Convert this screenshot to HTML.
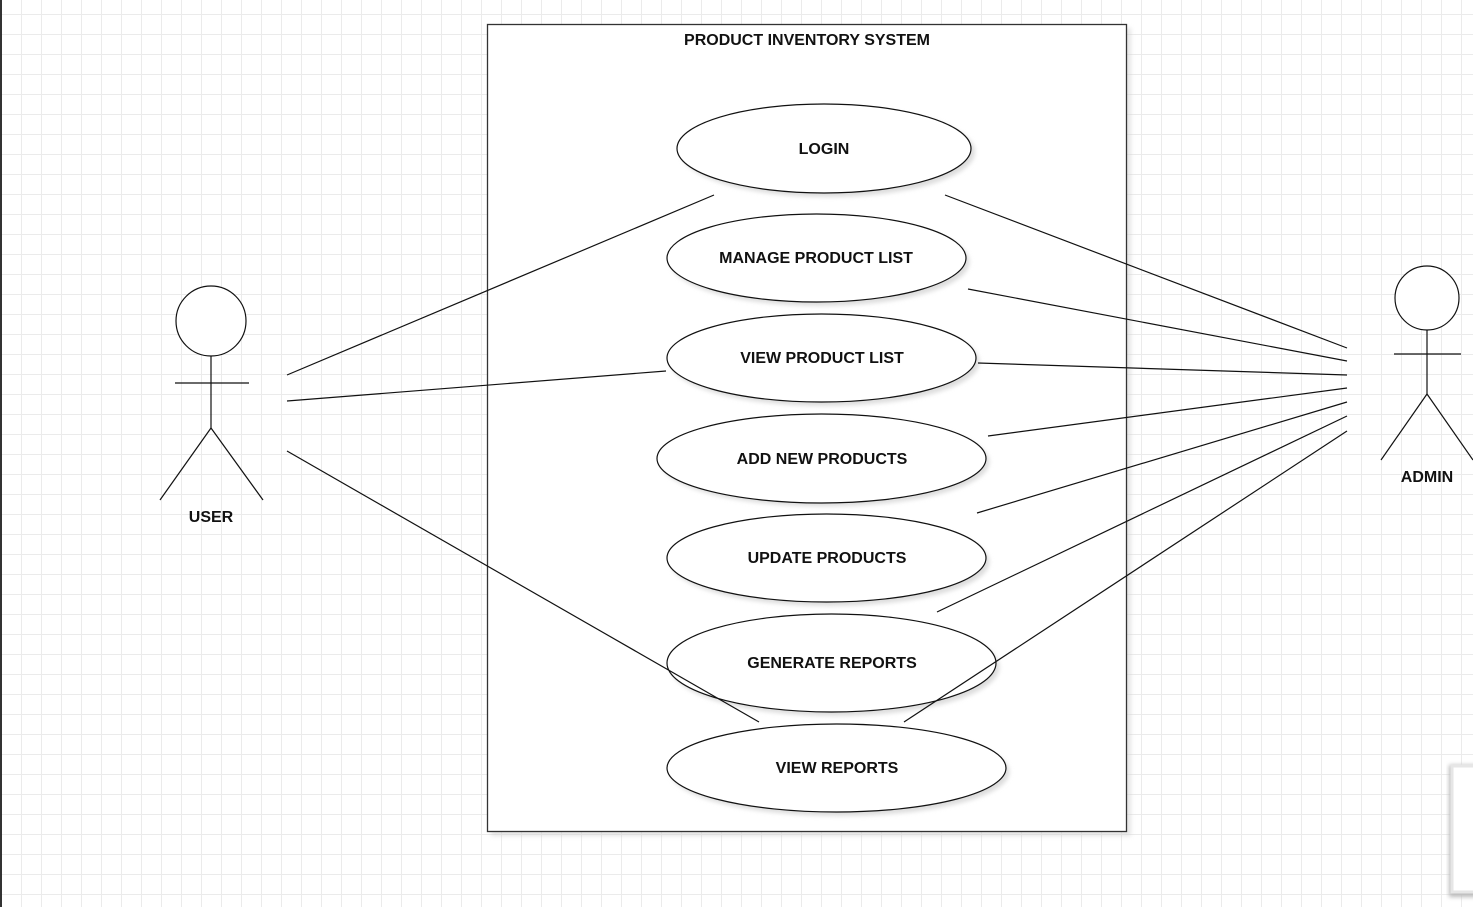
<!DOCTYPE html>
<html><head><style>
html,body{margin:0;padding:0;width:1473px;height:907px;overflow:hidden;background:#fff;}
body{background-image:linear-gradient(#ebebeb 1px,transparent 1px),linear-gradient(90deg,#ebebeb 1px,transparent 1px);background-size:20px 20px;background-position:1px 14px;}
svg{position:absolute;left:0;top:0;}
text{font-family:"Liberation Sans",Arial,sans-serif;font-weight:bold;font-size:16px;fill:#111;text-anchor:middle;}
</style></head><body>
<svg width="1473" height="907" viewBox="0 0 1473 907">
<defs><filter id="s" x="-10%" y="-10%" width="130%" height="130%"><feGaussianBlur stdDeviation="2"/></filter></defs>
<rect x="0" y="0" width="2" height="907" fill="#333"/>
<rect x="491" y="28" width="640" height="808" fill="#ccc" opacity="0.5" filter="url(#s)"/>
<rect x="487.5" y="24.5" width="639" height="807" fill="#fff" stroke="#333" stroke-width="1.3"/>
<text x="807" y="45">PRODUCT INVENTORY SYSTEM</text>
<g fill="#ddd" filter="url(#s)">
<ellipse cx="828" cy="152" rx="147" ry="45"/>
<ellipse cx="820" cy="262" rx="149.5" ry="44"/>
<ellipse cx="825" cy="362" rx="154.5" ry="44"/>
<ellipse cx="825" cy="462" rx="164.5" ry="44.5"/>
<ellipse cx="830" cy="562" rx="159.5" ry="44"/>
<ellipse cx="835" cy="667" rx="164.5" ry="49"/>
<ellipse cx="840" cy="772" rx="169.5" ry="44"/>
</g>
<g fill="#fff" stroke="#111" stroke-width="1.2">
<ellipse cx="824" cy="148.5" rx="147" ry="44.5"/>
<ellipse cx="816.5" cy="258" rx="149.5" ry="44"/>
<ellipse cx="821.5" cy="358" rx="154.5" ry="44"/>
<ellipse cx="821.5" cy="458.5" rx="164.5" ry="44.5"/>
<ellipse cx="826.5" cy="558" rx="159.5" ry="44"/>
<ellipse cx="831.5" cy="663" rx="164.5" ry="49"/>
<ellipse cx="836.5" cy="768" rx="169.5" ry="44"/>
</g>
<text x="824" y="154">LOGIN</text>
<text x="816" y="263">MANAGE PRODUCT LIST</text>
<text x="822" y="363">VIEW PRODUCT LIST</text>
<text x="822" y="464">ADD NEW PRODUCTS</text>
<text x="827" y="563">UPDATE PRODUCTS</text>
<text x="832" y="668">GENERATE REPORTS</text>
<text x="837" y="773">VIEW REPORTS</text>
<g stroke="#111" stroke-width="1.2" fill="none">
<line x1="287" y1="375" x2="714" y2="195"/>
<line x1="287" y1="401" x2="666" y2="371"/>
<line x1="287" y1="451" x2="759" y2="722"/>
<line x1="945" y1="195" x2="1347" y2="348"/>
<line x1="968" y1="289" x2="1347" y2="361"/>
<line x1="978" y1="363" x2="1347" y2="375"/>
<line x1="988" y1="436" x2="1347" y2="388"/>
<line x1="977" y1="513" x2="1347" y2="402"/>
<line x1="937" y1="612" x2="1347" y2="416"/>
<line x1="904" y1="722" x2="1347" y2="431"/>
<circle cx="211" cy="321" r="35" fill="#fff"/>
<line x1="211" y1="356" x2="211" y2="428"/>
<line x1="175" y1="383" x2="249" y2="383"/>
<line x1="211" y1="428" x2="160" y2="500"/>
<line x1="211" y1="428" x2="263" y2="500"/>
<circle cx="1427" cy="298" r="32" fill="#fff"/>
<line x1="1427" y1="330" x2="1427" y2="394"/>
<line x1="1394" y1="354" x2="1461" y2="354"/>
<line x1="1427" y1="394" x2="1381" y2="460"/>
<line x1="1427" y1="394" x2="1473" y2="460"/>
</g>
<text x="211" y="522">USER</text>
<text x="1427" y="482">ADMIN</text>
<rect x="1449" y="765" width="30" height="132" fill="#bbb" filter="url(#s)"/>
<rect x="1452" y="766" width="25" height="126" fill="#fff" stroke="#e6e6e6" stroke-width="3"/>
</svg>
</body></html>
